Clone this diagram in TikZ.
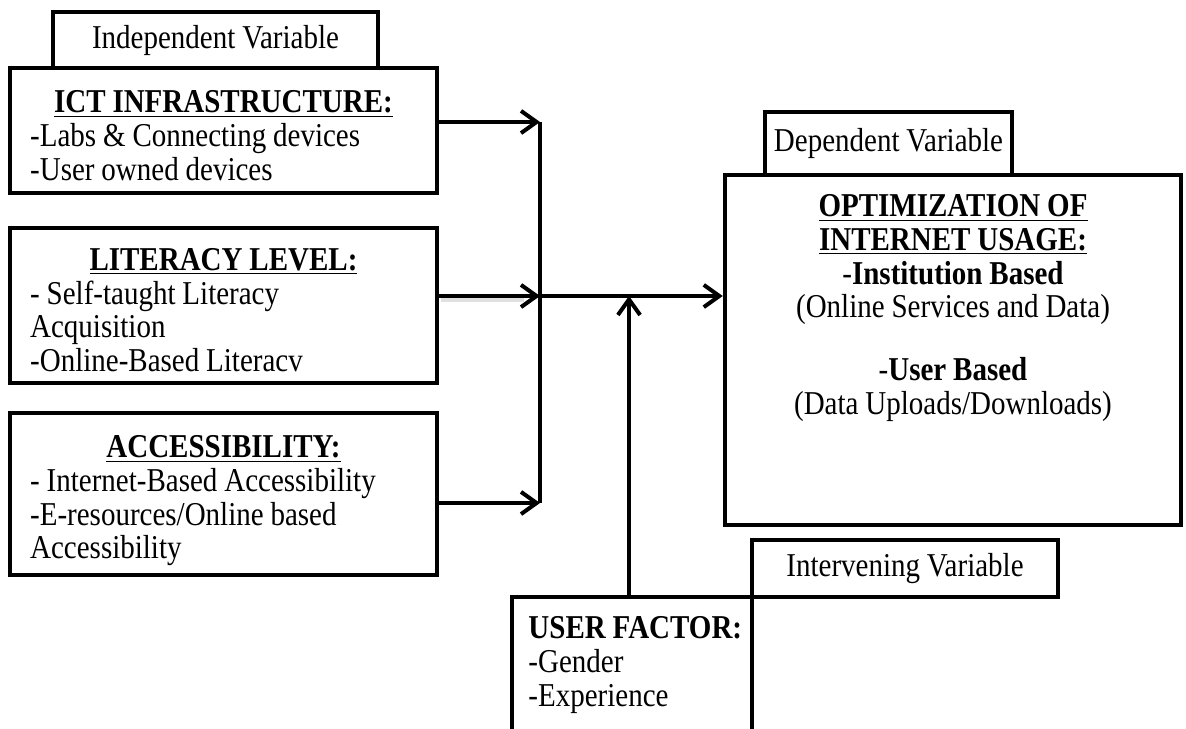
\documentclass[tikz,border=0pt]{standalone}
\usepackage{fontspec}
\setmainfont{Liberation Serif}[FakeStretch=0.87,WordSpace=0.95]
\usetikzlibrary{arrows.meta}

\begin{document}
\begin{tikzpicture}[x=0.45pt,y=0.45pt,yscale=-1,
    box/.style={draw, line width=2pt, rectangle, inner sep=0pt, fill=white,
      font=\fontsize{15}{15.2}\selectfont},
    txt/.style={inner sep=0pt, font=\fontsize{15}{15.2}\selectfont},
    link/.style={line width=1.8pt},
    arr/.style={link, -{Straight Barb[length=7pt,width=10pt]}}]
    \useasboundingbox (0,0) rectangle (1186,729);
    \clip (0,0) rectangle (1186,729);

    %Shape: Rectangle [independent variables]
    \node[box, minimum width=146.25pt, minimum height=25.2pt] (indepTab) at (215.5,40) {Independent Variable};
    \node[box, minimum width=192.15pt, minimum height=56.25pt, text width=174pt, align=flush left] (ictBox) at (223.5,130.5)
      {\makebox[\hsize]{\rule{0pt}{14.5pt}\textbf{\underline{ICT INFRASTRUCTURE:}}}\\
       -Labs \& Connecting devices\\
       -User owned devices};
    \node[box, minimum width=192.15pt, minimum height=69.75pt, text width=174pt, align=flush left] (litBox) at (223.5,305.5)
      {\makebox[\hsize]{\rule{0pt}{14pt}\textbf{\underline{LITERACY LEVEL:}}}\\
       - Self-taught Literacy\\
       Acquisition\\
       -Online-Based Literacv};
    \node[box, minimum width=192.15pt, minimum height=72.9pt, text width=174pt, align=flush left] (accBox) at (223.5,494)
      {\makebox[\hsize]{\rule{0pt}{16pt}\textbf{\underline{ACCESSIBILITY:}}}\\
       - Internet-Based Accessibility\\
       -E-resources/Online based\\
       Accessibility};

    %Shape: Rectangle [dependent variable]
    \node[box, minimum width=111.15pt, minimum height=28.35pt] (depTab) at (888.5,143.5) {Dependent Variable};
    \node[box, minimum width=205.2pt, minimum height=157.5pt] (depBox) at (953,350) {};
    % Text Node
    \node[txt, anchor=north, align=center] (depTxt) at (953,194)
      {\textbf{\underline{OPTIMIZATION OF}}\\
       \textbf{\underline{INTERNET USAGE:}}\\
       -\textbf{Institution Based}\\
       (Online Services and Data)\\[13pt]
       -\textbf{User Based}\\
       (Data Uploads/Downloads)};

    %Shape: Rectangle [intervening variable]
    \node[box, minimum width=137.7pt, minimum height=25.65pt] (intTab) at (905,568.5) {Intervening Variable};
    \node[box, minimum width=108pt, minimum height=64.35pt] (usrBox) at (632,668.5) {};
    % Text Node
    \node[txt, anchor=north west, align=flush left] (usrTxt) at (528,616)
      {\textbf{USER FACTOR:}\\
       -Gender\\
       -Experience};

    %Straight Lines [links]
    \coordinate (busTop) at (540,122);
    \coordinate (busBot) at (540,503);
    \coordinate (hub) at (540,296);
    \coordinate (join) at (629,296);
    \draw[link] (busTop) -- (busBot);
    \draw[arr] (ictBox.east |- busTop) -- (busTop);
    \draw[arr, preaction={-, draw=black!12, line width=2.4pt, shorten >=8pt, transform canvas={shift={(1pt,-1.4pt)}}}]
      (litBox.east |- hub) -- (hub);
    \draw[arr] (accBox.east |- busBot) -- (busBot);
    \draw[arr] (hub) -- (depBox.west |- hub);
    \draw[arr] (usrBox.north -| join) -- (join);
\end{tikzpicture}
\end{document}
